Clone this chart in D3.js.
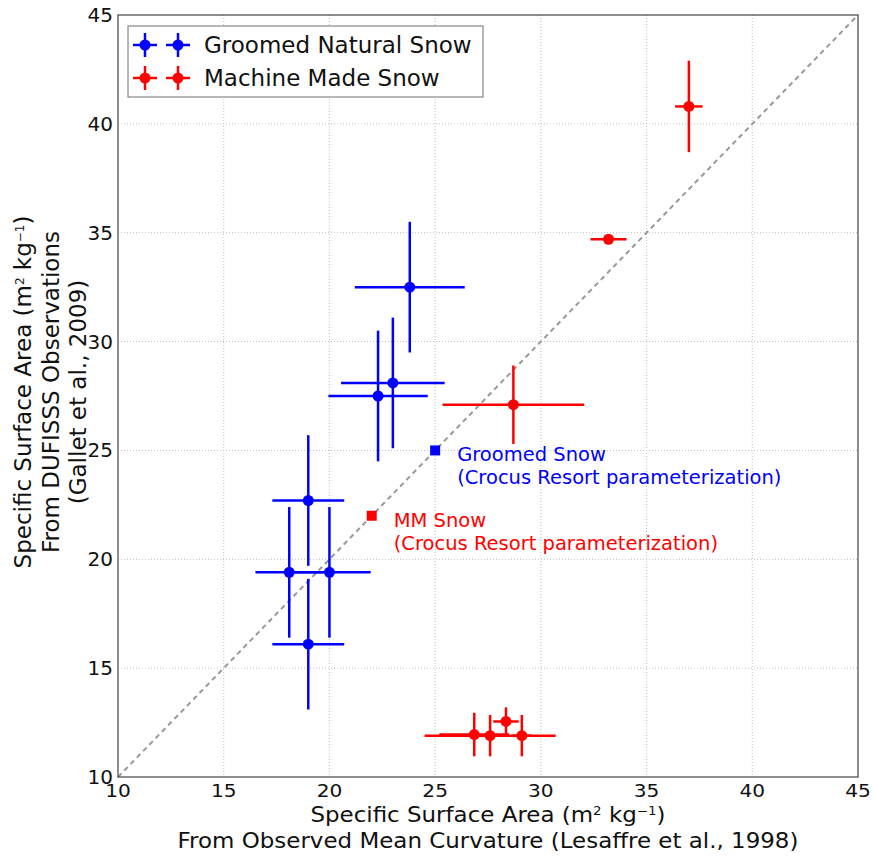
<!DOCTYPE html>
<html>
<head>
<meta charset="utf-8">
<script src="https://cdn.jsdelivr.net/npm/d3@7"></script>
<style>
  body { margin: 0; background: #fff; }
  svg { font-family: "DejaVu Sans", sans-serif; }
</style>
</head>
<body>
<svg id="chart" width="873" height="857"></svg>
<script>
// groomed natural snow: x, y, x error, y error
var groomedX    = [23.8, 23.0, 22.3, 19.0, 18.1, 20.0, 19.0];
var groomedY    = [32.5, 28.1, 27.5, 22.7, 19.4, 19.4, 16.1];
var groomedXErr = [2.6, 2.45, 2.35, 1.7, 1.6, 1.95, 1.7];
var groomedYErr = [3.0, 3.0, 3.0, 3.0, 3.0, 3.0, 3.0];

// machine made snow
var mmX    = [37.0, 33.2, 28.7, 26.85, 27.6, 28.35, 29.1];
var mmY    = [40.8, 34.7, 27.1, 11.95, 11.9, 12.55, 11.9];
var mmXErr = [0.65, 0.85, 3.35, 1.65, 3.1, 0.6, 0.45];
var mmYErr = [2.1, 0.05, 1.8, 1.0, 0.95, 0.65, 0.95];

// crocus resort parameterization points
var crocusX = [25, 22];
var crocusY = [25, 22];
var crocusLabels = [["Groomed Snow", "(Crocus Resort parameterization)"],
                    ["MM Snow", "(Crocus Resort parameterization)"]];

var legendLabels = ["Groomed Natural Snow", "Machine Made Snow"];
var ticks = [10, 15, 20, 25, 30, 35, 40, 45];

var blue = "#0000ff", red = "#ff0000";

var svg = d3.select("#chart");
var m = {left: 118, right: 15, top: 15, bottom: 80};
var W = 873 - m.left - m.right, H = 857 - m.top - m.bottom;

var x = d3.scaleLinear().domain([10, 45]).range([0, W]);
var y = d3.scaleLinear().domain([10, 45]).range([H, 0]);

var g = svg.append("g").attr("transform", "translate(" + m.left + "," + m.top + ")");

// grid
g.append("g").selectAll("line").data(ticks.slice(1, -1)).enter().append("line")
    .attr("x1", d => x(d)).attr("x2", d => x(d)).attr("y1", 0).attr("y2", H)
    .attr("stroke", "#c0c0c0").attr("stroke-width", 1).attr("stroke-dasharray", "1,2");
g.append("g").selectAll("line").data(ticks.slice(1, -1)).enter().append("line")
    .attr("y1", d => y(d)).attr("y2", d => y(d)).attr("x1", 0).attr("x2", W)
    .attr("stroke", "#c0c0c0").attr("stroke-width", 1).attr("stroke-dasharray", "1,2");

// 1:1 line
g.append("line")
    .attr("x1", x(10)).attr("y1", y(10)).attr("x2", x(45)).attr("y2", y(45))
    .attr("stroke", "#999").attr("stroke-width", 2).attr("stroke-dasharray", "5,4");

function draw_series(xs, ys, xe, ye, color) {
    var sg = g.append("g");
    xs.forEach(function (v, i) {
        sg.append("line")
            .attr("x1", x(v - xe[i])).attr("x2", x(v + xe[i]))
            .attr("y1", y(ys[i])).attr("y2", y(ys[i]))
            .attr("stroke", color).attr("stroke-width", 2.5);
        sg.append("line")
            .attr("x1", x(v)).attr("x2", x(v))
            .attr("y1", y(ys[i] - ye[i])).attr("y2", y(ys[i] + ye[i]))
            .attr("stroke", color).attr("stroke-width", 2.5);
    });
    sg.selectAll("circle").data(xs).enter().append("circle")
        .attr("cx", d => x(d)).attr("cy", (d, i) => y(ys[i])).attr("r", 5.5)
        .attr("fill", color);
}
draw_series(groomedX, groomedY, groomedXErr, groomedYErr, blue);
draw_series(mmX, mmY, mmXErr, mmYErr, red);

// crocus squares + notes
var cColors = [blue, red];
crocusX.forEach(function (v, i) {
    g.append("rect")
        .attr("x", x(v) - 5).attr("y", y(crocusY[i]) - 5)
        .attr("width", 10).attr("height", 10).attr("fill", cColors[i]);
    var t = g.append("text").attr("fill", cColors[i]).style("font-size", "19.5px")
        .attr("x", x(v) + 22).attr("y", y(crocusY[i]) + 11);
    t.append("tspan").text(crocusLabels[i][0]);
    t.append("tspan").attr("x", x(v) + 22).attr("dy", 23).text(crocusLabels[i][1]);
});

// frame
g.append("rect").attr("width", W).attr("height", H)
    .attr("fill", "none").attr("stroke", "#444").attr("stroke-width", 1.2);

// ticks (x labels a bit wider than tall, like the source image)
g.append("g").selectAll("text").data(ticks).enter().append("text")
    .attr("transform", d => "translate(" + x(d) + "," + (H + 20) + ") scale(1.15,1)")
    .attr("text-anchor", "middle")
    .style("font-size", "17.5px").attr("fill", "#111").text(d => d);
g.append("g").selectAll("text").data(ticks).enter().append("text")
    .attr("x", -5).attr("y", d => y(d) + 7).attr("text-anchor", "end")
    .style("font-size", "20px").attr("fill", "#111").text(d => d);

// axis labels
function sup_label(sel, pre, sup1, mid, sup2, post) {
    sel.append("tspan").text(pre);
    sel.append("tspan").attr("baseline-shift", "super").style("font-size", "12px").text(sup1);
    sel.append("tspan").text(mid);
    sel.append("tspan").attr("baseline-shift", "super").style("font-size", "12px").text(sup2);
    sel.append("tspan").text(post);
}
var xl = g.append("text")
    .attr("transform", "translate(" + (W / 2) + "," + (H + 45) + ") scale(1.12,1)")
    .attr("text-anchor", "middle")
    .style("font-size", "20.5px").attr("fill", "#111");
sup_label(xl, "Specific Surface Area (m", "2", "  kg", "\u22121", ")");
g.append("text")
    .attr("transform", "translate(" + (W / 2) + "," + (H + 71) + ") scale(1.12,1)")
    .attr("text-anchor", "middle")
    .style("font-size", "20.5px").attr("fill", "#111")
    .text("From Observed Mean Curvature (Lesaffre et al., 1998)");

var yl = svg.append("g").attr("transform", "translate(0," + (m.top + H / 2 - 4) + ") rotate(-90)");
var yl1 = yl.append("text").attr("x", 0).attr("y", 31).attr("text-anchor", "middle")
    .style("font-size", "23px").attr("fill", "#111");
sup_label(yl1, "Specific Surface Area (m", "2", "  kg", "\u22121", ")");
yl.append("text").attr("x", 0).attr("y", 59).attr("text-anchor", "middle")
    .style("font-size", "23px").attr("fill", "#111").text("From DUFISSS Observations");
yl.append("text").attr("x", 0).attr("y", 86).attr("text-anchor", "middle")
    .style("font-size", "23px").attr("fill", "#111").text("(Gallet et al., 2009)");

// legend
var lg = g.append("g").attr("transform", "translate(10,11)");
lg.append("rect").attr("width", 355).attr("height", 71)
    .attr("fill", "#fff").attr("stroke", "#888").attr("stroke-width", 1.2);
[blue, red].forEach(function (c, i) {
    var cy = 19 + i * 33;
    [17, 50].forEach(function (cx) {
        lg.append("line").attr("x1", cx - 12).attr("x2", cx + 12).attr("y1", cy).attr("y2", cy)
            .attr("stroke", c).attr("stroke-width", 2.5);
        lg.append("line").attr("x1", cx).attr("x2", cx).attr("y1", cy - 12).attr("y2", cy + 12)
            .attr("stroke", c).attr("stroke-width", 2.5);
        lg.append("circle").attr("cx", cx).attr("cy", cy).attr("r", 5.5).attr("fill", c);
    });
    lg.append("text").attr("x", 76).attr("y", cy + 8).style("font-size", "23px")
        .attr("fill", "#111").text(legendLabels[i]);
});
</script>
</body>
</html>
